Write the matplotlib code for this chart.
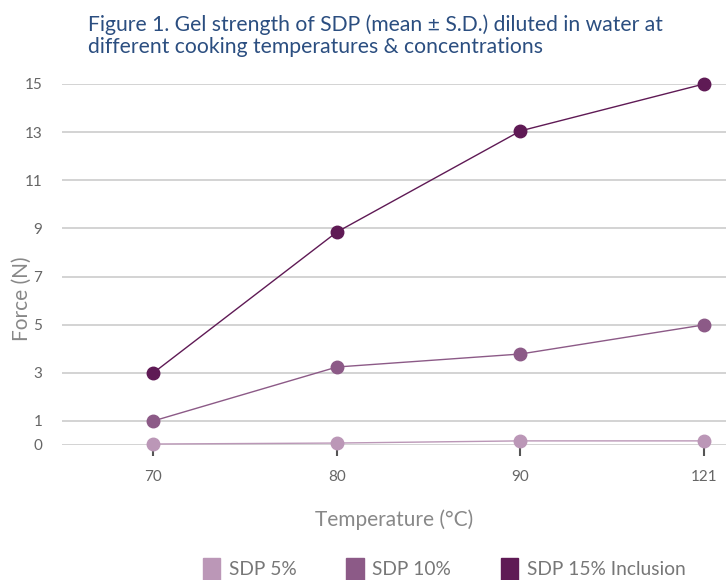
import matplotlib.pyplot as plt
from matplotlib.patches import Patch

plt.rcParams['font.family'] = ['Lato', 'DejaVu Sans']

temps = ['70', '80', '90', '121']
sdp5 = [0.04, 0.08, 0.17, 0.17]
sdp10 = [1.0, 3.24, 3.78, 4.99]
sdp15 = [3.0, 8.85, 13.05, 15.0]
series_names = ['SDP 5%', 'SDP 10%', 'SDP 15% Inclusion']
colors = ['#bb97b7', '#8c5a87', '#5f1a55']
yticks = [0, 1, 3, 5, 7, 9, 11, 13, 15]

fig = plt.figure(figsize=(7.26, 5.8), dpi=100)
ax = fig.add_axes([0.085, 0.2328, 0.915, 0.6224])

x = range(len(temps))
for vals, c in zip([sdp5, sdp10, sdp15], colors):
    ax.plot(x, vals, color=c, lw=1, marker='o', markersize=9, clip_on=False, zorder=3)

ax.set_xlim(-0.5, 3.12)
ax.set_ylim(0, 15)
ax.set_yticks(yticks)
ax.set_xticks(list(x))
ax.set_xticklabels(temps)
ax.grid(axis='y', color='#cccccc', lw=1.2)
ax.set_axisbelow(True)
for s in ax.spines.values():
    s.set_visible(False)
ax.tick_params(axis='y', length=0, labelsize=11, labelcolor='#666666', pad=14)
ax.tick_params(axis='x', length=8, width=1.5, color='#555555', labelsize=11,
               labelcolor='#666666', pad=10)

ax.set_xlabel('Temperature (°C)', fontsize=15, color='#888888', labelpad=18)
fig.text(0.030, 0.485, 'Force (N)', rotation=90, fontsize=15, color='#888888',
         ha='center', va='center')

fig.text(0.121, 0.975, 'Figure 1. Gel strength of SDP (mean ± S.D.) diluted in water at\n'
         'different cooking temperatures & concentrations',
         fontsize=15.2, color='#2b4e80', va='top', ha='left', linespacing=1.15)

handles = [Patch(color=c) for c in colors]
fig.legend(handles, series_names, loc='lower center', bbox_to_anchor=(0.612, -0.03),
           ncol=3, frameon=False, fontsize=13.8, labelcolor='#777777',
           handlelength=0.9, handleheight=1.4, columnspacing=2.6, handletextpad=0.45)

fig.savefig('out.png', dpi=100)
